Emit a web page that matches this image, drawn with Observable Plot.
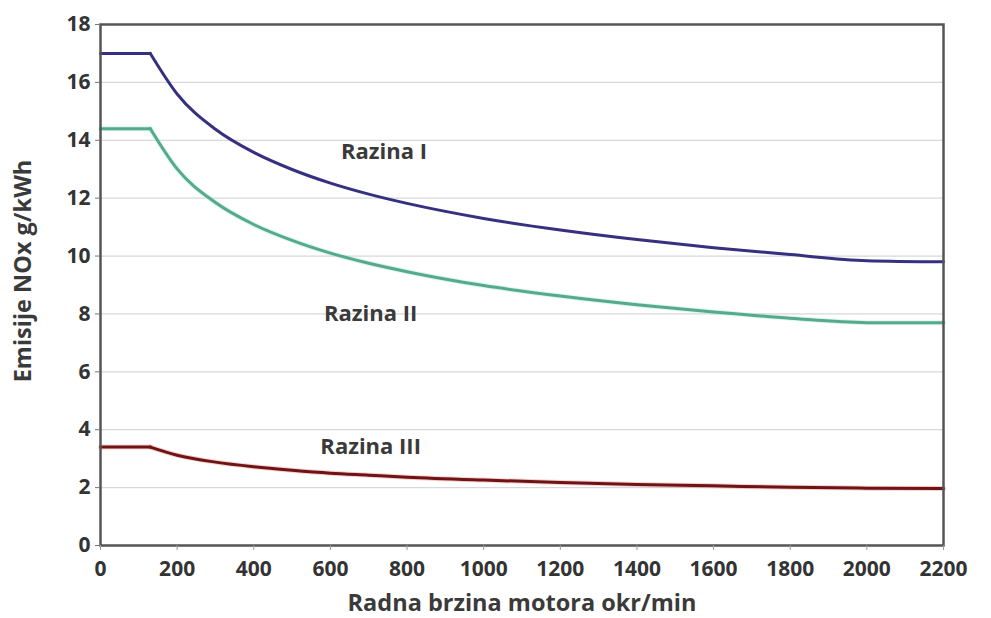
<!DOCTYPE html>
<html><head><meta charset="utf-8">
<script src="https://cdn.jsdelivr.net/npm/d3@7"></script>
<script src="https://cdn.jsdelivr.net/npm/@observablehq/plot@0.6"></script>
<style>
body{margin:0;background:#fff;}
svg{font-family:"Open Sans",Lato,sans-serif;}
</style>
</head><body>
<div id="chart"></div>
<script>
const rpm = [0, 130, 200, 300, 400, 500, 600, 700, 800, 1000, 1200, 1400, 1600, 1800, 2000, 2200];
const razinaI   = [17.0, 17.0, 15.6, 14.38, 13.58, 12.99, 12.52, 12.14, 11.82, 11.30, 10.90, 10.57, 10.29, 10.05, 9.84, 9.8];
const razinaII  = [14.4, 14.4, 13.01, 11.85, 11.09, 10.54, 10.10, 9.75, 9.46, 8.98, 8.62, 8.32, 8.07, 7.85, 7.7, 7.7];
const razinaIII = [3.4, 3.4, 3.12, 2.88, 2.72, 2.60, 2.50, 2.43, 2.36, 2.26, 2.18, 2.11, 2.06, 2.01, 1.98, 1.97];
const seriesNames = ["Razina I", "Razina II", "Razina III"];
const seriesColors = ["#35307f", "#55a98c", "#6e1414"];
const labelX = [740, 705, 705];
const labelY = [13.6, 8.0, 3.4];
const yTicks = [0, 2, 4, 6, 8, 10, 12, 14, 16, 18];
const xTicks = [0, 200, 400, 600, 800, 1000, 1200, 1400, 1600, 1800, 2000, 2200];
const flatEnd = 130;

const allSeries = [razinaI, razinaII, razinaIII];
const rows = [];
allSeries.forEach((vals, i) => vals.forEach((v, j) => {
  const r = rpm[j];
  if (r <= flatEnd) rows.push({rpm: r, nox: v, series: seriesNames[i], seg: seriesNames[i] + "-flat"});
  if (r >= flatEnd) rows.push({rpm: r, nox: v, series: seriesNames[i], seg: seriesNames[i] + "-curve"});
}));
const labels = seriesNames.map((s, i) => ({name: s, x: labelX[i], y: labelY[i]}));
const font = "'Open Sans', Lato, sans-serif";

const chart = Plot.plot({
  width: 991,
  height: 618,
  marginLeft: 100,
  marginTop: 24,
  marginRight: 48,
  marginBottom: 73,
  style: {fontFamily: font, background: "#fff"},
  x: {domain: [0, 2200], ticks: xTicks},
  y: {domain: [0, 18], ticks: yTicks},
  color: {domain: seriesNames, range: seriesColors},
  marks: [
    Plot.gridY(yTicks, {stroke: "#d8d8d8", strokeOpacity: 1, strokeWidth: 1.2}),
    Plot.line(rows.filter(d => d.series === "Razina III"), {x: "rpm", y: "nox", z: "seg", stroke: "#e06060", strokeWidth: 5, strokeOpacity: 0.3, curve: "monotone-x"}),
    Plot.line(rows.filter(d => d.series === "Razina II"), {x: "rpm", y: "nox", z: "seg", stroke: "#a8e8d0", strokeWidth: 5, strokeOpacity: 0.4, curve: "monotone-x"}),
    Plot.line(rows, {x: "rpm", y: "nox", z: "seg", stroke: "series", strokeWidth: 3, curve: "monotone-x"}),
    Plot.frame({stroke: "#555", strokeWidth: 2.5}),
    Plot.axisY(yTicks, {tickSize: 5, tickPadding: 5, fontSize: 21, fontWeight: "bold", fill: "#333", stroke: "#777", tickFormat: "d", label: "Emisije NOx g/kWh", labelOffset: 86, labelAnchor: "center", labelArrow: "none"}),
    Plot.axisX(xTicks, {tickSize: 5, tickPadding: 11, fontSize: 21, fontWeight: "bold", fill: "#333", stroke: "#999", tickFormat: "d", label: "Radna brzina motora okr/min", labelOffset: 65, labelAnchor: "center", labelArrow: "none"}),
    Plot.text(labels, {x: "x", y: "y", text: "name", fontSize: 22, fontWeight: "bold", fill: "#3a3a3a"})
  ]
});
d3.select(chart).selectAll("[aria-label='x-axis label'] text, [aria-label='y-axis label'] text")
  .style("font-size", "23.5px").style("font-weight", "bold").style("fill", "#3a3a3a");
d3.select(chart).selectAll("[aria-label='y-axis label'] text").attr("dx", 14);
document.getElementById("chart").appendChild(chart);
</script>
</body></html>
